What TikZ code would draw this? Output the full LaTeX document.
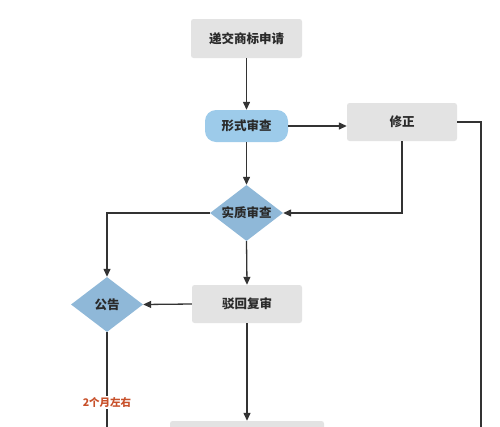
\documentclass[tikz,border=0pt]{standalone}
\usepackage{fontspec}
\setmainfont{Noto Sans CJK SC}
\usetikzlibrary{shapes.geometric,arrows.meta}
\definecolor{boxgray}{HTML}{E3E3E3}
\definecolor{pillblue}{HTML}{9DCBEA}
\definecolor{diablue}{HTML}{8FB8D8}
\definecolor{linecol}{HTML}{333333}
\definecolor{txtcol}{HTML}{2A2A2A}
\definecolor{redlab}{HTML}{C8502A}
\begin{document}
\begin{tikzpicture}[x=1pt,y=-1pt,
  every node/.style={font=\fontsize{12.5}{15}\selectfont\bfseries, text=txtcol, inner sep=0pt},
  graybox/.style={rectangle, fill=boxgray, rounded corners=2.5pt, minimum width=111pt, minimum height=39pt},
  pill/.style={rectangle, fill=pillblue, rounded corners=11pt, minimum width=83pt, minimum height=32pt},
  dia/.style={diamond, fill=diablue, aspect=1.3},
  conn/.style={draw=linecol, line width=1.3pt},
  arr/.style={conn, -{Triangle[length=8pt,width=7pt]}},
  lab/.style={font=\fontsize{10.5}{12}\selectfont\bfseries, text=redlab, fill=white, inner sep=1.5pt}
]
\useasboundingbox (0,0) rectangle (500,426);
\clip (0,0) rectangle (500,426);

\node[graybox] (n1) at (246.5,38.5) {递交商标申请};
\node[pill] (xs) at (246.5,126) {形式审查};
\node[graybox, minimum width=110pt, minimum height=38pt] (xz) at (402,122) {修正};
\node[dia, minimum width=73pt, minimum height=56pt] (sz) at (246.5,213) {实质审查};
\node[dia, minimum width=72pt, minimum height=55pt] (gg) at (107,304.5) {公告};
\node[graybox, minimum width=110pt, minimum height=38pt] (bh) at (247,304) {驳回复审};
\node[graybox, minimum width=154pt, minimum height=38pt] (bt) at (247,440) {};

\coordinate (rend) at (481,440);
\coordinate (lend) at (107,440);

\draw[arr] (n1.south) -- (xs.north);
\draw[arr] (xs.south) -- (sz.north);
\draw[arr] (xs.east) -- (xs.east -| xz.west);
\draw[arr] (xz.south) -- (xz.south |- sz.east) -- (sz.east);
\draw[conn] (xz.east) -- (rend |- xz.east) -- (rend);
\draw[arr] (sz.west) -- (gg.north |- sz.west) -- (gg.north);
\draw[arr] (sz.south) -- (bh.north);
\draw[arr] (bh.west) -- (gg.east);
\draw[arr] (bh.south) -- (bt.north);
\draw[conn] (gg.south) -- (lend);
\node[lab] (t2) at (107,402) {2个月左右};
\end{tikzpicture}
\end{document}
